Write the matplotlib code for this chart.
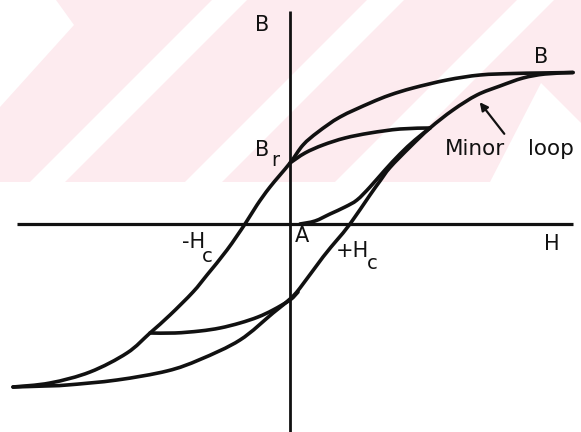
import matplotlib
matplotlib.use("Agg")
import numpy as np
import matplotlib.pyplot as plt
from matplotlib.patches import Polygon, FancyArrowPatch, PathPatch
from matplotlib.path import Path

# Major hysteresis loop, descending branch (from +saturation to -saturation)
desc_H = [2.83, 2.50, 2.23, 1.90, 1.57, 1.23, 1.00, 0.80, 0.50, 0.28, 0.13, 0.00,
          -0.20, -0.33, -0.45, -0.63, -0.83, -0.97, -1.20, -1.40, -1.63, -2.00, -2.40, -2.77]
desc_B = [1.515, 1.51, 1.505, 1.49, 1.44, 1.36, 1.29, 1.21, 1.07, 0.92, 0.79, 0.61,
          0.37, 0.19, 0.00, -0.26, -0.51, -0.68, -0.91, -1.09, -1.29, -1.48, -1.59, -1.63]

# Major hysteresis loop, ascending branch (from -saturation to +saturation)
asc_H = [-2.77, -2.45, -2.23, -1.73, -1.23, -0.90, -0.50, -0.17, 0.00, 0.10, 0.33, 0.47,
         0.60, 0.80, 0.90, 1.00, 1.20, 1.40, 1.63, 1.87, 2.10, 2.33, 2.55, 2.83]
asc_B = [-1.63, -1.62, -1.61, -1.56, -1.47, -1.355, -1.16, -0.89, -0.75, -0.64, -0.33, -0.16,
         0.00, 0.29, 0.43, 0.565, 0.77, 0.96, 1.14, 1.29, 1.38, 1.46, 1.50, 1.515]

# Minor loop, upper edge from the remanence point Br
minor_up_H = [0.00, 0.15, 0.33, 0.55, 0.80, 1.10, 1.40]
minor_up_B = [0.61, 0.71, 0.79, 0.86, 0.91, 0.95, 0.96]

# Curve rising from point A back up to the minor-loop tip
from_A_H = [0.10, 0.25, 0.40, 0.55, 0.67, 0.80, 0.95, 1.10, 1.25, 1.40]
from_A_B = [0.00, 0.03, 0.10, 0.17, 0.24, 0.37, 0.54, 0.70, 0.84, 0.96]

# Minor loop in the third quadrant
minor_low_H = [-1.40, -1.15, -0.90, -0.70, -0.50, -0.32, -0.17, 0.00, 0.08]
minor_low_B = [-1.09, -1.09, -1.07, -1.04, -0.99, -0.93, -0.86, -0.76, -0.68]

# Axis extents
H_axis = [-2.73, 2.83]
B_axis = [-2.10, 2.13]


def smooth_path(xs, ys):
    """Cubic Bezier path through every point (Catmull-Rom tangents)."""
    p = np.column_stack([xs, ys]).astype(float)
    n = len(p)
    verts = [p[0]]
    codes = [Path.MOVETO]
    for i in range(n - 1):
        p0 = p[i - 1] if i > 0 else p[i]
        p1, p2 = p[i], p[i + 1]
        p3 = p[i + 2] if i + 2 < n else p[i + 1]
        c1 = p1 + (p2 - p0) / 6.0
        c2 = p2 - (p3 - p1) / 6.0
        verts += [c1, c2, p2]
        codes += [Path.CURVE4] * 3
    return Path(verts, codes)


W, Hpx = 581, 432
fig = plt.figure(figsize=(W / 100, Hpx / 100), dpi=100)

# Background watermark band (pixel coordinates)
bg = fig.add_axes([0, 0, 1, 1])
bg.set_xlim(0, W)
bg.set_ylim(Hpx, 0)
bg.axis("off")
pink = (253 / 255, 235 / 255, 239 / 255)
band_bottom = 182
bg.add_patch(Polygon([(0, 0), (W, 0), (W, band_bottom), (0, band_bottom)],
                     closed=True, facecolor=pink, edgecolor="none"))
white_shapes = [
    [(0, 0), (56, 0), (74, 25), (0, 107)],
    [(30, band_bottom), (65, band_bottom), (65 + 182, 0), (30 + 182, 0)],
    [(185, band_bottom), (222, band_bottom), (222 + 182, 0), (185 + 182, 0)],
    [(335, band_bottom), (372, band_bottom), (372 + 182, 0), (335 + 182, 0)],
    [(490, band_bottom), (541, 83), (581, 123), (581, band_bottom)],
]
for shp in white_shapes:
    bg.add_patch(Polygon(shp, closed=True, facecolor="white", edgecolor="none"))

ax = fig.add_axes([0, 0, 1, 1])
ax.patch.set_alpha(0)
ax.set_xlim(-2.90, 2.91)
ax.set_ylim(-2.08, 2.24)
ax.axis("off")

ink = "#111111"
lw_curve = 2.6
ax.plot(H_axis, [0, 0], color=ink, lw=2.3, solid_capstyle="butt")
ax.plot([0, 0], B_axis, color=ink, lw=2.0, solid_capstyle="butt")

for hx, by in [(desc_H, desc_B), (asc_H, asc_B), (minor_up_H, minor_up_B),
               (from_A_H, from_A_B), (minor_low_H, minor_low_B)]:
    ax.add_patch(PathPatch(smooth_path(hx, by), facecolor="none", edgecolor=ink,
                           lw=lw_curve, capstyle="round", joinstyle="round"))

fs = 15
txt = dict(color=ink, fontsize=fs, family="DejaVu Sans")
sub = dict(color=ink, fontsize=14, family="DejaVu Sans")
ax.text(-0.28, 1.99, "B", ha="center", va="center", **txt)
ax.text(2.51, 1.67, "B", ha="center", va="center", **txt)
ax.text(-0.28, 0.74, "B", ha="center", va="center", **txt)
ax.text(-0.15, 0.63, "r", ha="center", va="center", **sub)
ax.text(-0.965, -0.18, "-H", ha="center", va="center", **txt)
ax.text(-0.83, -0.32, "c", ha="center", va="center", **sub)
ax.text(0.62, -0.27, "+H", ha="center", va="center", **txt)
ax.text(0.82, -0.395, "c", ha="center", va="center", **sub)
ax.text(0.12, -0.12, "A", ha="center", va="center", **txt)
ax.text(2.62, -0.20, "H", ha="center", va="center", **txt)
lbl = dict(color=ink, fontsize=15.5, family="DejaVu Sans", ha="left", va="baseline")
ax.text(1.55, 0.69, "Minor", **lbl)
ax.text(2.38, 0.69, "loop", **lbl)

ax.add_patch(FancyArrowPatch((2.16, 0.88), (1.88, 1.24), arrowstyle="-|>",
                             mutation_scale=12, color=ink, lw=1.6))

fig.savefig("out.png", dpi=100)
